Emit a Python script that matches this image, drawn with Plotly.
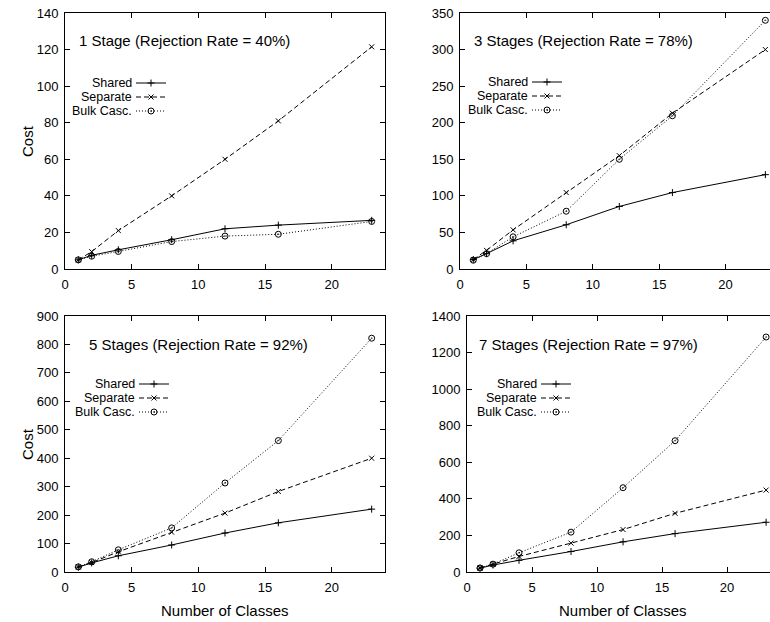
import plotly.graph_objects as go

classes = [1, 2, 4, 8, 12, 16, 23]

shared_1 = [5, 7.5, 10.5, 16, 22, 24, 26.6]
separate_1 = [5, 9.5, 21, 40, 60, 81, 121.5]
bulk_1 = [5, 7, 9.6, 15, 18, 19, 26]

shared_3 = [13, 21, 38.5, 60.5, 85.5, 104.5, 129]
separate_3 = [13, 25.5, 53.5, 104.5, 155, 213, 300]
bulk_3 = [12, 21, 44, 79, 150, 209.5, 340]

shared_5 = [17, 32, 57, 95, 137, 173, 221]
separate_5 = [18, 33, 71, 140, 207, 283, 400]
bulk_5 = [18, 36, 78, 155, 313, 462, 822]

shared_7 = [21, 38, 64, 112, 165, 210, 272]
separate_7 = [22, 42, 85, 158, 232, 321, 448]
bulk_7 = [22, 43, 105, 218, 461, 718, 1285]

series_names = ["Shared", "Separate", "Bulk Casc."]
panel_titles = [
    "1 Stage (Rejection Rate = 40%)",
    "3 Stages (Rejection Rate = 78%)",
    "5 Stages (Rejection Rate = 92%)",
    "7 Stages (Rejection Rate = 97%)",
]
panel_data = [
    [shared_1, separate_1, bulk_1],
    [shared_3, separate_3, bulk_3],
    [shared_5, separate_5, bulk_5],
    [shared_7, separate_7, bulk_7],
]
y_ranges = [[0, 140], [0, 350], [0, 900], [0, 1400]]
y_dticks = [20, 50, 100, 200]
x_title = "Number of Classes"
y_title = "Cost"

W, H = 770, 622
FONT = "Liberation Sans, Arial, Helvetica, sans-serif"

# panel geometry in pixels: (left, right, top, bottom)
panels_px = [
    (65, 385, 13, 269),
    (460, 770, 13, 269),
    (65, 385, 316, 572),
    (467, 770, 316, 572),
]
x_ranges = [[0, 24], [0, 23.35], [0, 24], [0, 23.3]]

styles = [
    dict(dash="solid", symbol="cross-thin", size=5),
    dict(dash="5px,3px", symbol="x-thin", size=5),
    dict(dash="1px,2px", symbol="circle-open-dot", size=6),
]

# legend label right edge, first row y, sample start x (pixels)
legend_px = [
    (134, 83, 131),
    (530, 82, 527),
    (137, 384, 134),
    (539, 384, 536),
]
title_px = [(77, 40), (472, 40), (87, 344), (477, 344)]
row_gap = 14

fig = go.Figure()
layout = dict(
    width=W, height=H,
    margin=dict(l=0, r=0, t=0, b=0),
    paper_bgcolor="white", plot_bgcolor="white",
    font=dict(family=FONT, size=12, color="black"),
    showlegend=True,
    annotations=[],
)

leg_idx = 1
for p in range(4):
    L, R, T, B = panels_px[p]
    xa = "xaxis" if p == 0 else f"xaxis{p+1}"
    ya = "yaxis" if p == 0 else f"yaxis{p+1}"
    xref = "x" if p == 0 else f"x{p+1}"
    yref = "y" if p == 0 else f"y{p+1}"
    right_panel = p in (1, 3)
    layout[xa] = dict(
        domain=[L / W, R / W], range=x_ranges[p], anchor=yref,
        tickmode="array", tickvals=[0, 5, 10, 15, 20],
        ticks="inside", ticklen=5, tickwidth=1, tickcolor="black",
        showline=True, linecolor="black", linewidth=1, mirror="ticks",
        showgrid=False, zeroline=False, automargin=False,
        tickfont=dict(size=13, family=FONT),
        ticklabelstandoff=3,
    )
    layout[ya] = dict(
        domain=[1 - B / H, 1 - T / H], range=y_ranges[p], anchor=xref,
        dtick=y_dticks[p], tick0=0,
        ticks="inside", ticklen=5, tickwidth=1, tickcolor="black",
        showline=True, linecolor="black", linewidth=1,
        mirror=False if right_panel else "ticks",
        showgrid=False, zeroline=False, automargin=False,
        tickfont=dict(size=13, family=FONT),
        ticklabelstandoff=3,
    )

    if p >= 2:
        full_right = L + 24 * (R - L) / x_ranges[p][1]
        layout["annotations"].append(dict(
            text=x_title, xref="paper", yref="paper",
            x=(L + full_right) / 2 / W, y=1 - 610 / H,
            xanchor="center", yanchor="middle", showarrow=False,
            font=dict(size=15, family=FONT),
        ))
    if not right_panel:
        layout["annotations"].append(dict(
            text=y_title, xref="paper", yref="paper", textangle=-90,
            x=27 / W, y=1 - (T + B) / 2 / H,
            xanchor="center", yanchor="middle", showarrow=False,
            font=dict(size=15, family=FONT),
        ))

    tx, ty = title_px[p]
    layout["annotations"].append(dict(
        text=panel_titles[p], xref="paper", yref="paper",
        x=tx / W, y=1 - ty / H,
        xanchor="left", yanchor="middle", showarrow=False,
        font=dict(size=15, family=FONT),
    ))

    lx, ly, sx = legend_px[p]
    for s in range(3):
        st = styles[s]
        lname = "legend" if leg_idx == 1 else f"legend{leg_idx}"
        fig.add_trace(go.Scatter(
            x=classes, y=panel_data[p][s], mode="lines+markers",
            name="", legend=lname, xaxis=xref, yaxis=yref,
            hovertemplate=series_names[s] + ": %{y}<extra></extra>",
            line=dict(color="black", width=1, dash=st["dash"]),
            marker=dict(symbol=st["symbol"], size=st["size"], color="black",
                        line=dict(color="black", width=1)),
            cliponaxis=True,
        ))
        yy = ly + s * row_gap
        layout[lname] = dict(
            x=sx / W, y=1 - yy / H, xanchor="left", yanchor="middle",
            bgcolor="rgba(0,0,0,0)", borderwidth=0,
            font=dict(size=11, family=FONT),
        )
        layout["annotations"].append(dict(
            text=series_names[s], xref="paper", yref="paper",
            x=lx / W, y=1 - yy / H, xanchor="right", yanchor="middle",
            showarrow=False, font=dict(size=12.5, family=FONT),
        ))
        leg_idx += 1

fig.update_layout(**layout)
fig.write_html(
    "out.html",
    config={"displayModeBar": False},
    post_script="document.body.style.margin='0';document.body.style.overflow='hidden';",
)
